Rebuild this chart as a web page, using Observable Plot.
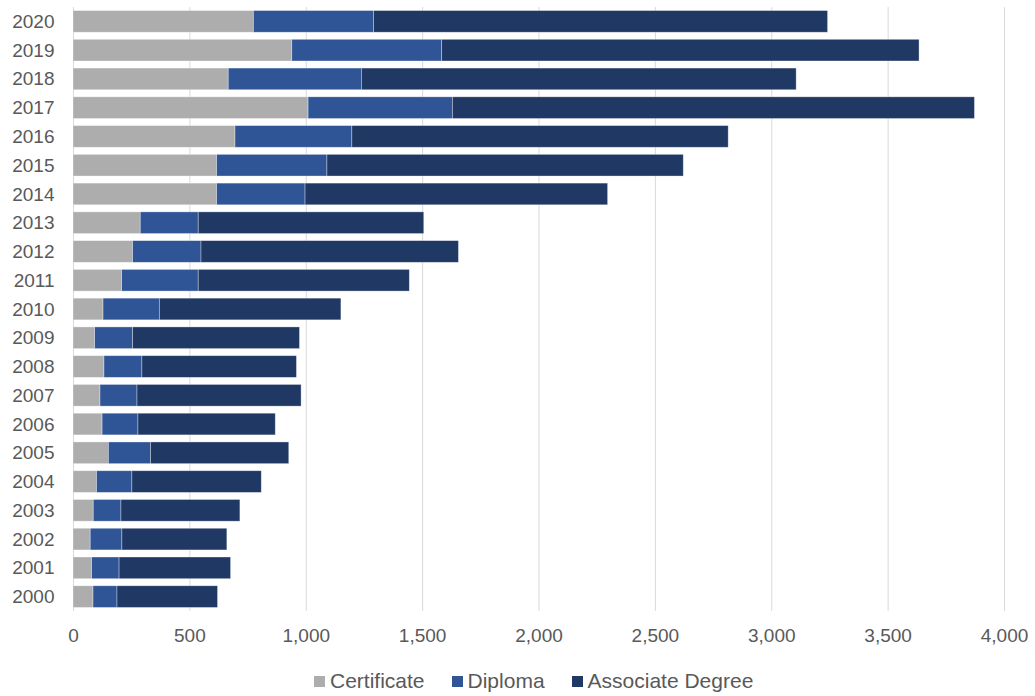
<!DOCTYPE html>
<html>
<head>
<meta charset="utf-8">
<script src="https://cdn.jsdelivr.net/npm/d3@7"></script>
<script src="https://cdn.jsdelivr.net/npm/@observablehq/plot@0.6"></script>
<style>
  html, body { margin: 0; padding: 0; background: #fff; }
  #chart svg { display: block; }
  .legend { display: flex; justify-content: flex-start; align-items: center; height: 24px; margin-top: 13px;
            font-family: "Liberation Sans", Arial, sans-serif; font-size: 21px; color: #595959; padding-left: 314px; }
  .legend .item { display: flex; align-items: center; margin-right: 27px; }
  .legend .sw { width: 11px; height: 11px; margin-right: 5px; display: inline-block; }
</style>
</head>
<body>
<div id="chart"></div>
<script>
const years = [2000, 2001, 2002, 2003, 2004, 2005, 2006, 2007, 2008, 2009, 2010,
               2011, 2012, 2013, 2014, 2015, 2016, 2017, 2018, 2019, 2020];
const certificate = [86, 80, 74, 87, 101, 152, 125, 116, 133, 93, 129,
                     209, 256, 289, 617, 617, 696, 1010, 667, 940, 775];
const diploma = [103, 118, 136, 119, 152, 181, 154, 159, 163, 163, 242,
                 329, 294, 249, 380, 474, 502, 620, 572, 644, 516];
const associate = [432, 479, 451, 511, 556, 594, 590, 705, 664, 717, 780,
                   907, 1106, 969, 1300, 1531, 1617, 2243, 1868, 2051, 1951];
const seriesNames = ["Certificate", "Diploma", "Associate Degree"];
const seriesColors = ["#adadad", "#2f5597", "#203864"];
const xTicks = [0, 500, 1000, 1500, 2000, 2500, 3000, 3500, 4000];

const seriesValues = [certificate, diploma, associate];
const data = [];
years.forEach((yr, i) => {
  seriesNames.forEach((s, j) => data.push({year: String(yr), type: s, value: seriesValues[j][i]}));
});

const chart = Plot.plot({
  width: 1035,
  height: 656,
  marginLeft: 73,
  marginRight: 31,
  marginTop: 7,
  marginBottom: 45,
  style: {fontFamily: "'Liberation Sans', Arial, sans-serif", fontSize: "19px", color: "#595959", background: "#fff"},
  x: {domain: [0, 4000], ticks: xTicks, tickFormat: d3.format(","), label: null, tickSize: 0, tickPadding: 17},
  y: {domain: years.map(String).reverse(), paddingInner: 0.246, paddingOuter: 0.123, round: false, label: null, tickSize: 0, tickPadding: 19},
  color: {domain: seriesNames, range: seriesColors},
  marks: [
    Plot.gridX(xTicks, {stroke: "#d9d9d9", strokeOpacity: 1, strokeWidth: 1}),
    Plot.barX(data, {x: "value", y: "year", fill: "type", stroke: "#ffffff", strokeOpacity: 0.45, strokeWidth: 0.75}),
    Plot.axisX({ticks: xTicks, tickFormat: d3.format(","), tickSize: 0, tickPadding: 17, fill: "#595959", fontSize: 19}),
    Plot.axisY({tickSize: 0, tickPadding: 19, fill: "#595959", fontSize: 19})
  ]
});
document.getElementById("chart").appendChild(chart);

const legend = document.createElement("div");
legend.className = "legend";
seriesNames.forEach((s, i) => {
  const item = document.createElement("span");
  item.className = "item";
  const sw = document.createElement("span");
  sw.className = "sw";
  sw.style.background = seriesColors[i];
  item.appendChild(sw);
  item.appendChild(document.createTextNode(s));
  legend.appendChild(item);
});
document.getElementById("chart").appendChild(legend);
</script>
</body>
</html>
